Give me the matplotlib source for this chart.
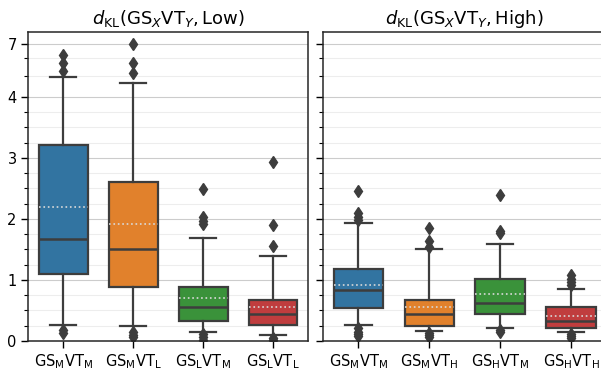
import matplotlib.pyplot as plt
from matplotlib.ticker import FixedLocator

# summary statistics (per box)
low_labels = [r'$\mathrm{GS}_\mathrm{M}\mathrm{VT}_\mathrm{M}$', r'$\mathrm{GS}_\mathrm{M}\mathrm{VT}_\mathrm{L}$',
              r'$\mathrm{GS}_\mathrm{L}\mathrm{VT}_\mathrm{M}$', r'$\mathrm{GS}_\mathrm{L}\mathrm{VT}_\mathrm{L}$']
low_q1 = [1.09, 0.89, 0.33, 0.27]
low_med = [1.67, 1.50, 0.56, 0.44]
low_q3 = [3.21, 2.60, 0.89, 0.67]
low_mean = [2.20, 1.92, 0.70, 0.56]
low_whislo = [0.26, 0.25, 0.15, 0.10]
low_whishi = [4.95, 4.62, 1.68, 1.39]
low_fliers = [[0.18, 0.13, 5.27, 5.72, 6.21],
              [0.15, 0.10, 0.07, 5.16, 5.70, 6.95],
              [0.12, 0.06, 0.02, 1.91, 1.97, 2.04, 2.49],
              [0.05, 0.02, 1.56, 1.90, 2.93]]

high_labels = [r'$\mathrm{GS}_\mathrm{M}\mathrm{VT}_\mathrm{M}$', r'$\mathrm{GS}_\mathrm{M}\mathrm{VT}_\mathrm{H}$',
               r'$\mathrm{GS}_\mathrm{H}\mathrm{VT}_\mathrm{M}$', r'$\mathrm{GS}_\mathrm{H}\mathrm{VT}_\mathrm{H}$']
high_q1 = [0.54, 0.25, 0.44, 0.22]
high_med = [0.84, 0.45, 0.63, 0.33]
high_q3 = [1.18, 0.67, 1.02, 0.55]
high_mean = [0.91, 0.55, 0.77, 0.41]
high_whislo = [0.26, 0.17, 0.22, 0.15]
high_whishi = [1.94, 1.51, 1.59, 0.85]
high_fliers = [[0.21, 0.15, 0.12, 0.09, 1.98, 2.04, 2.09, 2.46],
               [0.13, 0.10, 0.07, 1.54, 1.64, 1.85],
               [0.18, 0.15, 1.77, 1.80, 2.40],
               [0.12, 0.08, 0.05, 0.92, 0.96, 1.02, 1.08]]

colors = ['#3274a1', '#e1812c', '#3a923a', '#c03d3e']
gray = '#3d3d3d'

fig = plt.figure(figsize=(6.01, 3.7), dpi=100)
ax1 = fig.add_axes([0.0474, 0.0784, 0.465, 0.835])
ax2 = fig.add_axes([0.5374, 0.0784, 0.472, 0.835], sharey=ax1)


def draw(ax, q1, med, q3, mean, lo, hi, fliers, labels, title):
    stats = []
    for i in range(len(med)):
        stats.append(dict(q1=q1[i], med=med[i], q3=q3[i], mean=mean[i],
                          whislo=lo[i], whishi=hi[i], fliers=fliers[i]))
    bp = ax.bxp(stats, positions=range(4), widths=0.7, capwidths=0.37,
                patch_artist=True, showmeans=True, meanline=True,
                boxprops=dict(edgecolor=gray, linewidth=1.6),
                whiskerprops=dict(color=gray, linewidth=1.6),
                capprops=dict(color=gray, linewidth=1.6),
                medianprops=dict(color=gray, linewidth=1.8),
                meanprops=dict(color='#d9d9d9', linestyle=':', linewidth=1.2),
                flierprops=dict(marker='d', markerfacecolor=gray, markeredgecolor=gray,
                                markersize=6.5))
    for patch, c in zip(bp['boxes'], colors):
        patch.set_facecolor(c)
    ax.set_xticks(range(4))
    ax.set_xticklabels(labels, fontsize=10.5)
    ax.set_xlim(-0.5, 3.5)
    ax.set_title(title, fontsize=13)
    ax.grid(axis='y', which='major', color='#cccccc', linewidth=0.8)
    ax.grid(axis='y', which='minor', color='#ededed', linewidth=0.8)
    ax.set_axisbelow(True)
    ax.tick_params(axis='both', which='major', length=5, width=1, labelsize=10.5)
    ax.tick_params(axis='y', which='minor', length=3, width=0.8)
    for s in ax.spines.values():
        s.set_linewidth(1.1)
        s.set_color('#262626')


draw(ax1, low_q1, low_med, low_q3, low_mean, low_whislo, low_whishi, low_fliers,
     low_labels, r'$d_{\mathrm{KL}}(\mathrm{GS}_X\mathrm{VT}_Y, \mathrm{Low})$')
draw(ax2, high_q1, high_med, high_q3, high_mean, high_whislo, high_whishi, high_fliers,
     high_labels, r'$d_{\mathrm{KL}}(\mathrm{GS}_X\mathrm{VT}_Y, \mathrm{High})$')

ax1.set_yscale('symlog', linthresh=4, linscale=1)
ax1.set_ylim(0, 7.9)
ax1.yaxis.set_major_locator(FixedLocator([0, 1, 2, 3, 4, 7]))
ax1.yaxis.set_minor_locator(FixedLocator([i * 0.25 for i in range(17)] + [5, 6]))
ax1.set_yticklabels(['0', '1', '2', '3', '4', '7'])
plt.setp(ax2.get_yticklabels(), visible=False)

fig.savefig('out.png', dpi=100)
